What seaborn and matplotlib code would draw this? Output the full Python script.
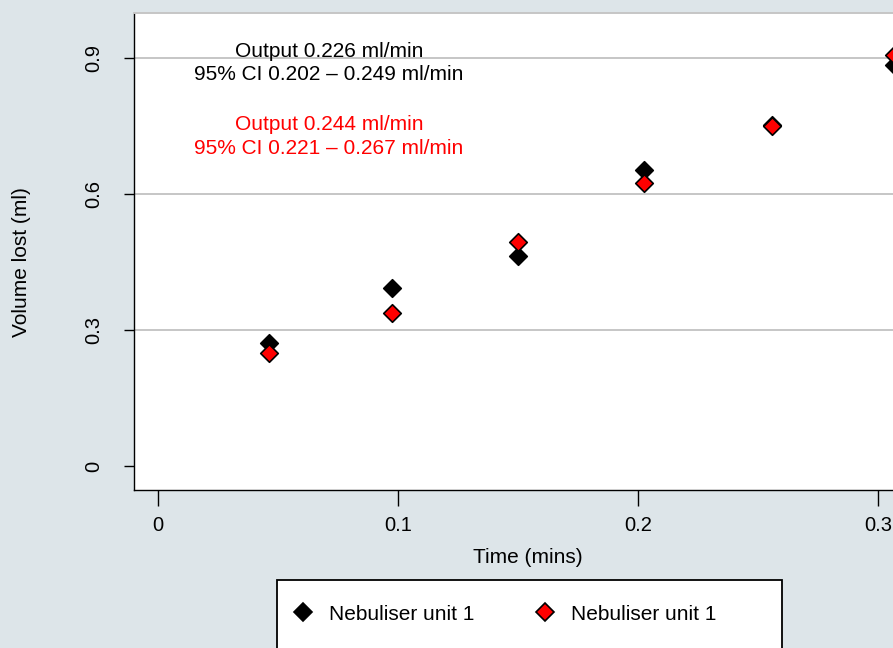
import matplotlib
matplotlib.use("Agg")
import matplotlib.pyplot as plt
import seaborn as sns
import pandas as pd
from matplotlib.patches import Rectangle
from matplotlib.lines import Line2D

# Measurements: elapsed time and cumulative volume lost for each run
time_mins = [0.0464, 0.0974, 0.1499, 0.2026, 0.2557, 0.3067]
vol_unit_a = [0.271, 0.392, 0.463, 0.653, 0.752, 0.885]
vol_unit_b = [0.249, 0.338, 0.495, 0.624, 0.751, 0.907]
legend_labels = ["Nebuliser unit 1", "Nebuliser unit 1"]
fit_text_a = ["Output 0.226 ml/min", "95% CI 0.202 \u2013 0.249 ml/min"]
fit_text_b = ["Output 0.244 ml/min", "95% CI 0.221 \u2013 0.267 ml/min"]
x_ticks = [0, 0.1, 0.2, 0.3]
x_ticklabels = ["0", "0.1", "0.2", "0.3"]
y_ticks = [0, 0.3, 0.6, 0.9]
y_ticklabels = ["0", "0.3", "0.6", "0.9"]

BG = "#dde5e9"
GRID = "#c6c6c6"
RED = "#ff0000"

sns.set_theme(style="white")
plt.rcParams["font.family"] = ["Liberation Sans", "DejaVu Sans"]
plt.rcParams["text.color"] = "black"

W, H = 893, 648
fig = plt.figure(figsize=(W / 100, H / 100), dpi=100, facecolor=BG)
left, right, top, bottom = 134, 930, 13, 490
ax = fig.add_axes([left / W, 1 - bottom / H, (right - left) / W, (bottom - top) / H])
ax.set_facecolor("white")

df_a = pd.DataFrame({"time": time_mins, "vol": vol_unit_a})
df_b = pd.DataFrame({"time": time_mins, "vol": vol_unit_b})
sns.scatterplot(data=df_a, x="time", y="vol", marker="D", s=80, color="black",
                edgecolor="black", linewidth=1.2, ax=ax, zorder=3, legend=False)
sns.scatterplot(data=df_b, x="time", y="vol", marker="D", s=80, color=RED,
                edgecolor="black", linewidth=1.2, ax=ax, zorder=4, legend=False)

ax.set_xlim(-0.01, 0.3217)
ax.set_ylim(-0.0529, 0.9993)

# Horizontal grid lines at every labelled tick above zero
for yv in y_ticks[1:]:
    ax.axhline(yv, color=GRID, lw=1.4, zorder=1)

ax.set_xticks(x_ticks, labels=x_ticklabels)
ax.set_yticks(y_ticks, labels=y_ticklabels, rotation=90, va="center")
ax.tick_params(axis="x", bottom=True, length=11.5, width=1.0, pad=7,
               labelsize=14.5, color="black", labelcolor="black")
ax.tick_params(axis="y", left=True, length=7.2, width=1.0, pad=15,
               labelsize=14.5, color="black", labelcolor="black")

for side in ("left", "bottom"):
    ax.spines[side].set_color("black")
    ax.spines[side].set_linewidth(1.0)
ax.spines["top"].set_color(GRID)
ax.spines["top"].set_linewidth(1.4)
ax.spines["right"].set_visible(False)

ax.set_xlabel("Time (mins)", fontsize=15, color="black")
ax.set_ylabel("Volume lost (ml)", fontsize=15, color="black")
ax.xaxis.set_label_coords((528 - left) / (right - left), (bottom - 548) / (bottom - top))
ax.yaxis.set_label_coords((31 - left) / (right - left), (bottom - 262) / (bottom - top))

ax.text(0.0712, 0.889, "\n".join(fit_text_a), ha="center", va="center",
        ma="center", fontsize=15, color="black", linespacing=1.3, zorder=5)
ax.text(0.0712, 0.727, "\n".join(fit_text_b), ha="center", va="center",
        ma="center", fontsize=15, color=RED, linespacing=1.3, zorder=5)

# Legend box below the plot
fig.add_artist(Rectangle((277 / W, 1 - 652 / H), (782 - 277) / W, (652 - 580) / H,
                         transform=fig.transFigure, facecolor="white",
                         edgecolor="black", linewidth=1.3, zorder=1))
handles = [
    Line2D([], [], ls="", marker="D", markersize=9, markerfacecolor="black",
           markeredgecolor="black", markeredgewidth=1.2),
    Line2D([], [], ls="", marker="D", markersize=9, markerfacecolor=RED,
           markeredgecolor="black", markeredgewidth=1.2),
]
fs_leg = 15
fig.legend(handles, legend_labels, ncol=2, frameon=False, loc="center left",
           bbox_to_anchor=((303 - 0.5 * fs_leg * 1.389) / W, 1 - 614 / H),
           fontsize=fs_leg, handlelength=1.0, handletextpad=0.75,
           columnspacing=2.9, borderpad=0, borderaxespad=0)

fig.savefig("out.png", dpi=100, facecolor=BG)
